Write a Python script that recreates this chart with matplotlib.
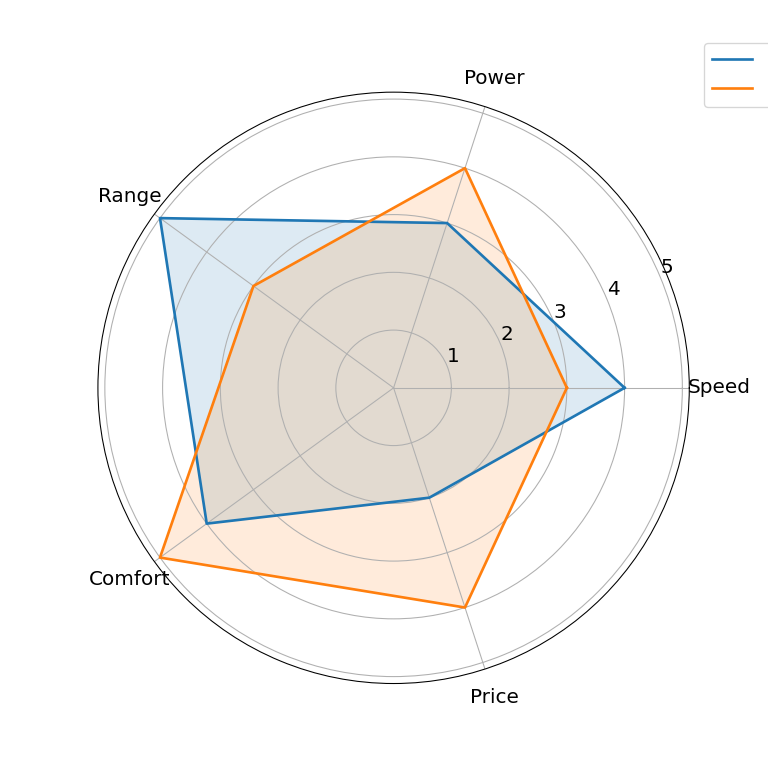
import numpy as np
import matplotlib
matplotlib.use("Agg")
import matplotlib.pyplot as plt

categories = ["Speed", "Power", "Range", "Comfort", "Price"]
model_a = [4, 3, 5, 4, 2]
model_b = [3, 4, 3, 5, 4]
series = {"Model A": model_a, "Model B": model_b}

angles = np.linspace(0, 2*np.pi, len(categories), endpoint=False).tolist()
angles_c = angles + angles[:1]

fig = plt.figure(figsize=(8, 8), dpi=96)
ax = fig.add_subplot(111, polar=True)
for name, vals in series.items():
    v = vals + vals[:1]
    ax.plot(angles_c, v, linewidth=2, label=name)
    ax.fill(angles_c, v, alpha=0.15)
ax.set_xticks(angles)
ax.set_xticklabels(categories, fontsize=15)
ax.tick_params(axis="x", pad=12)
ax.set_yticks([1, 2, 3, 4, 5])
ax.set_yticklabels(["1", "2", "3", "4", "5"], fontsize=15)
ax.set_ylim(0, 5.12)
ax.legend(loc="upper right", bbox_to_anchor=(1.3, 1.1), fontsize=15)
fig.savefig("out.png", dpi=96)
